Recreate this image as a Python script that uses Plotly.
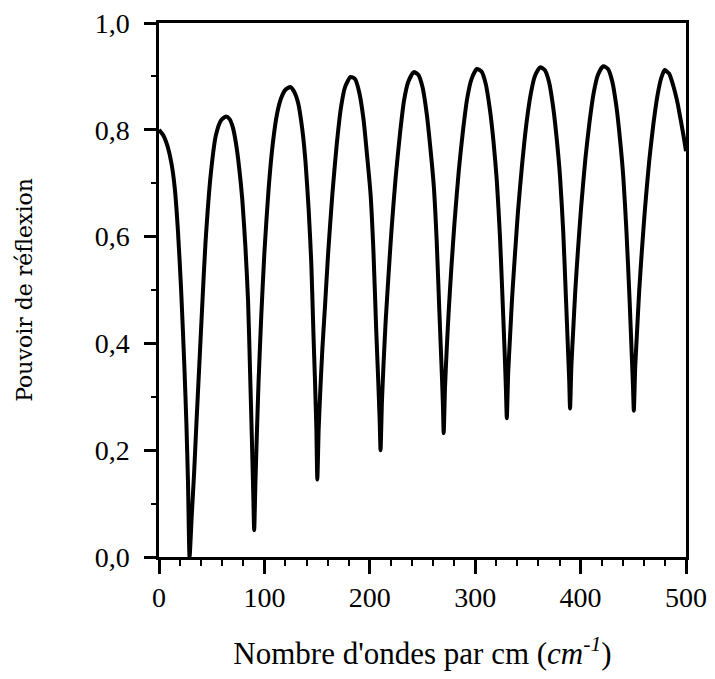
import plotly.graph_objects as go

# Wavenumber (cm^-1) and reflectivity
wavenumber = [
    0, 4, 8, 12, 15, 18, 21, 24, 26, 27.5, 29,
    31, 33.3, 35.5, 38, 41, 44, 49, 54, 59, 63.6,
    67, 70, 73, 76, 79, 82, 84.5, 86.5, 88, 89.3, 90.3,
    91.5, 93, 94.5, 97, 100, 104, 108, 112, 116, 120, 124.5,
    128, 132, 136, 139, 142, 144.5, 146.5, 148, 149.3, 150.2,
    151.5, 153, 155, 157.5, 160.5, 164.5, 168.5, 172.5, 176.5, 181.8,
    186, 190, 194, 197.5, 200.7, 203.5, 206, 208, 209.3, 210.2,
    211.5, 213, 215, 217.5, 220.5, 224.5, 228.5, 232.5, 236.5, 241.7,
    246, 250, 254, 257.5, 260.7, 263.5, 266, 268, 269.3, 270.1,
    271.4, 273, 275, 277.5, 280.5, 284.5, 288.5, 292.5, 296.5, 301.5,
    306, 310, 314, 317.5, 320.5, 323.5, 326, 328, 329.2, 330,
    331.3, 333, 335, 337.5, 340.5, 344.5, 348.5, 352.5, 356.5, 361.6,
    366, 370, 374, 377.5, 380.5, 383.5, 386, 388, 389.2, 390,
    391.3, 393, 395, 397.5, 400.5, 404.5, 408.5, 412.5, 416.5, 421.5,
    426, 430, 434, 437.5, 440.5, 443.5, 446.5, 448.5, 449.7, 450.5,
    451.8, 453.5, 455.5, 458, 461, 465, 469, 473, 476.5, 479.8,
    484, 488, 492, 495, 498, 500,
]
reflectivity = [
    0.800, 0.790, 0.770, 0.735, 0.690, 0.610, 0.500, 0.360, 0.250, 0.140, 0.000,
    0.075, 0.157, 0.250, 0.350, 0.470, 0.585, 0.715, 0.790, 0.818, 0.825,
    0.820, 0.805, 0.775, 0.730, 0.670, 0.580, 0.480, 0.340, 0.230, 0.130, 0.050,
    0.140, 0.240, 0.330, 0.450, 0.570, 0.690, 0.775, 0.830, 0.860, 0.875, 0.880,
    0.872, 0.850, 0.800, 0.740, 0.650, 0.550, 0.420, 0.330, 0.240, 0.145,
    0.240, 0.310, 0.390, 0.470, 0.570, 0.680, 0.770, 0.840, 0.880, 0.899,
    0.895, 0.870, 0.820, 0.750, 0.680, 0.570, 0.430, 0.330, 0.260, 0.200,
    0.290, 0.360, 0.440, 0.520, 0.610, 0.710, 0.790, 0.855, 0.890, 0.908,
    0.903, 0.880, 0.830, 0.765, 0.695, 0.590, 0.460, 0.360, 0.290, 0.232,
    0.320, 0.390, 0.465, 0.545, 0.630, 0.725, 0.800, 0.860, 0.895, 0.914,
    0.909, 0.886, 0.837, 0.775, 0.705, 0.600, 0.480, 0.380, 0.310, 0.260,
    0.345, 0.410, 0.485, 0.560, 0.645, 0.735, 0.810, 0.865, 0.900, 0.917,
    0.912, 0.890, 0.842, 0.780, 0.712, 0.610, 0.490, 0.390, 0.330, 0.278,
    0.360, 0.425, 0.500, 0.575, 0.655, 0.745, 0.815, 0.870, 0.903, 0.919,
    0.914, 0.891, 0.843, 0.780, 0.712, 0.610, 0.480, 0.380, 0.320, 0.274,
    0.355, 0.420, 0.495, 0.570, 0.650, 0.740, 0.810, 0.865, 0.897, 0.912,
    0.905, 0.882, 0.850, 0.818, 0.785, 0.760,
]

x_tick_values = [0, 100, 200, 300, 400, 500]
x_tick_labels = ["0", "100", "200", "300", "400", "500"]
y_tick_values = [0.0, 0.2, 0.4, 0.6, 0.8, 1.0]
y_tick_labels = ["0,0", "0,2", "0,4", "0,6", "0,8", "1,0"]

x_title = "Nombre d'ondes par cm (<i>cm<sup>-1</sup></i>)"
y_title = "Pouvoir de réflexion"

serif = "Liberation Serif, Times New Roman, serif"

fig = go.Figure()
fig.add_trace(go.Scatter(
    x=wavenumber, y=reflectivity, mode="lines",
    line=dict(color="black", width=4, shape="spline", smoothing=0.6),
    showlegend=False, cliponaxis=True,
))

fig.update_layout(
    width=699, height=663,
    margin=dict(l=151, r=21, t=15, b=114, autoexpand=False),
    paper_bgcolor="white", plot_bgcolor="white",
    font=dict(family=serif, size=28, color="black"),
    xaxis=dict(
        range=[0, 500], tickvals=x_tick_values, ticktext=x_tick_labels,
        showline=True, linecolor="black", linewidth=2.5, mirror=True,
        ticks="outside", ticklen=14, tickwidth=2.5, tickcolor="black",
        minor=dict(dtick=20, tick0=0, ticks="outside", ticklen=6, tickwidth=2, tickcolor="black"),
        showgrid=False, zeroline=False,
        tickfont=dict(family=serif, size=28),
        ticklabeloverflow="allow",
        title=dict(text=x_title, font=dict(family=serif, size=31), standoff=35),
    ),
    yaxis=dict(
        range=[0, 1], tickvals=y_tick_values, ticktext=y_tick_labels,
        showline=True, linecolor="black", linewidth=2.5, mirror=True,
        ticks="outside", ticklen=12, tickwidth=2.5, tickcolor="black",
        minor=dict(dtick=0.1, tick0=0, ticks="outside", ticklen=5, tickwidth=2, tickcolor="black"),
        showgrid=False, zeroline=False,
        tickfont=dict(family=serif, size=28),
        ticklabelstandoff=9,
        ticklabeloverflow="allow",
        title=dict(text=y_title, font=dict(family="DejaVu Serif, serif", size=22), standoff=56),
    ),
)

fig.write_html("out.html")
